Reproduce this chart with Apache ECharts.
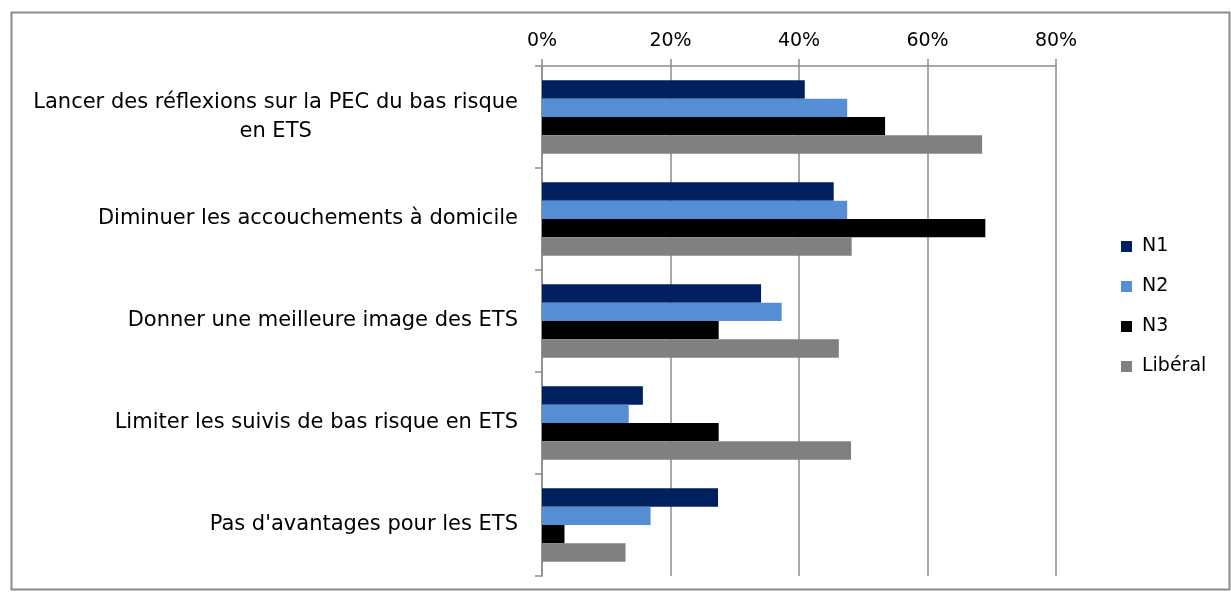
<!DOCTYPE html>
<html>
<head>
<meta charset="utf-8">
<script src="https://cdn.jsdelivr.net/npm/echarts@6/dist/echarts.min.js"></script>
<style>
  html, body { margin: 0; padding: 0; background: #fff; }
  #main { width: 1231px; height: 593px; }
</style>
</head>
<body>
<div id="main"></div>
<script>
const categories = [
    'Lancer des réflexions sur la PEC du bas risque\nen ETS',
    'Diminuer les accouchements à domicile',
    'Donner une meilleure image des ETS',
    'Limiter les suivis de bas risque en ETS',
    "Pas d'avantages pour les ETS"
];
const seriesNames = ['N1', 'N2', 'N3', 'Libéral'];
const n1 = [40.9, 45.4, 34.1, 15.7, 27.4];
const n2 = [47.5, 47.5, 37.3, 13.5, 16.9];
const n3 = [53.4, 69.0, 27.5, 27.5, 3.5];
const liberal = [68.5, 48.2, 46.2, 48.1, 13.0];
const xTicks = [0, 20, 40, 60, 80];

const colors = ['#002060', '#558ED5', '#000000', '#808080'];
const values = [n1, n2, n3, liberal];

const myChart = echarts.init(document.getElementById('main'));

const option = {
    animation: false,
    textStyle: { fontFamily: 'DejaVu Sans' },
    graphic: [{
        type: 'rect',
        shape: { x: 11.5, y: 12.5, width: 1218, height: 577 },
        style: { fill: 'none', stroke: '#8c8c8c', lineWidth: 2 }
    }],
    legend: {
        orient: 'vertical',
        left: 1116,
        top: 232,
        itemWidth: 11,
        itemHeight: 11,
        itemGap: 21,
        icon: 'rect',
        textStyle: { fontSize: 19, color: '#000', padding: [0, 0, 0, 5] },
        data: seriesNames
    },
    grid: { left: 542, right: 175, top: 66, bottom: 17 },
    xAxis: {
        type: 'value',
        position: 'top',
        min: xTicks[0],
        max: xTicks[xTicks.length - 1],
        interval: 20,
        axisLine: { show: true, lineStyle: { color: '#8c8c8c', width: 1.5 } },
        axisTick: { show: true, length: 7, lineStyle: { color: '#8c8c8c', width: 1.5 } },
        splitLine: { show: true, lineStyle: { color: '#8c8c8c', width: 1.5 } },
        axisLabel: { formatter: '{value}%', fontSize: 19, color: '#000', margin: 15 }
    },
    yAxis: {
        type: 'category',
        inverse: true,
        data: categories,
        axisLine: { show: true, lineStyle: { color: '#8c8c8c', width: 1.5 } },
        axisTick: { show: true, length: 7, inside: false, lineStyle: { color: '#8c8c8c', width: 1.5 } },
        axisLabel: {
            fontSize: 21,
            color: '#000',
            margin: 24,
            formatter: function (v) {
                return v.split('\n').map(function (s) { return '{c|' + s + '}'; }).join('\n');
            },
            rich: { c: { align: 'center', fontSize: 21, lineHeight: 29, color: '#000' } }
        }
    },
    series: seriesNames.map(function (name, i) {
        return {
            name: name,
            type: 'bar',
            data: values[i],
            barGap: '0%',
            barCategoryGap: '28%',
            itemStyle: { color: colors[i] }
        };
    })
};

option && myChart.setOption(option);
</script>
</body>
</html>
